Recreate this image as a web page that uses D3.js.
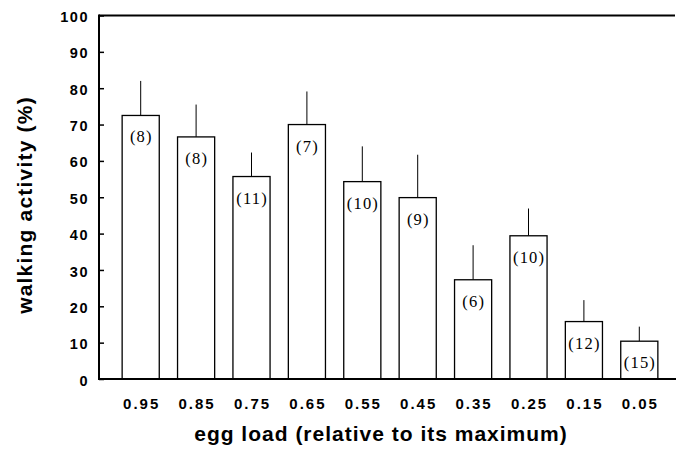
<!DOCTYPE html>
<html>
<head>
<meta charset="utf-8">
<script src="https://cdn.jsdelivr.net/npm/d3@7"></script>
<style>
html, body { margin: 0; padding: 0; background: #fff; }
svg { display: block; }
</style>
</head>
<body>
<svg id="chart" width="676" height="449"></svg>
<script>
const categories = ["0.95", "0.85", "0.75", "0.65", "0.55", "0.45", "0.35", "0.25", "0.15", "0.05"];
const means = [72.5, 66.6, 55.7, 70.0, 54.3, 49.9, 27.3, 39.4, 15.8, 10.4];
const errorTops = [82.0, 75.5, 62.3, 79.1, 64.0, 61.7, 36.8, 46.9, 21.7, 14.4];
const sampleSizes = ["(8)", "(8)", "(11)", "(7)", "(10)", "(9)", "(6)", "(10)", "(12)", "(15)"];
const yTicks = [0, 10, 20, 30, 40, 50, 60, 70, 80, 90, 100];

const svg = d3.select("#chart");
const x = d3.scaleBand().domain(categories).range([113, 667]).paddingInner(0.33).paddingOuter(0.165);
const y = d3.scaleLinear().domain([0, 100]).range([379, 15.5]);
const axisLeft = 99;
const sans = "Liberation Sans, Arial, Helvetica, sans-serif";

const data = categories.map((c, i) => ({ c, m: means[i], e: errorTops[i], n: sampleSizes[i] }));

// error bars (upward only)
svg.append("g").selectAll("line").data(data).join("line")
  .attr("x1", d => x(d.c) + x.bandwidth() / 2)
  .attr("x2", d => x(d.c) + x.bandwidth() / 2)
  .attr("y1", d => y(d.e))
  .attr("y2", d => y(d.m))
  .attr("stroke", "#000").attr("stroke-width", 1);

// bars
svg.append("g").selectAll("rect").data(data).join("rect")
  .attr("x", d => x(d.c))
  .attr("width", x.bandwidth())
  .attr("y", d => y(d.m))
  .attr("height", d => y(0) - y(d.m))
  .attr("fill", "#fff").attr("stroke", "#000").attr("stroke-width", 1.3);

// sample size labels
svg.append("g").selectAll("text").data(data).join("text")
  .attr("x", d => x(d.c) + x.bandwidth() / 2)
  .attr("y", d => y(d.m) + 27)
  .attr("dx", 0.6)
  .attr("text-anchor", "middle")
  .attr("font-family", "Liberation Serif, Times New Roman, serif")
  .attr("font-size", 16.5)
  .attr("letter-spacing", 1.2)
  .attr("fill", "#000")
  .text(d => d.n);

// y axis
const yAxis = d3.axisLeft(y).tickValues(yTicks).tickSize(-5).tickPadding(10).tickFormat(d3.format("d"));
const gy = svg.append("g").attr("transform", `translate(${axisLeft},0)`).call(yAxis);
gy.select(".domain").remove();
gy.selectAll(".tick line").attr("stroke", "#000").attr("stroke-width", 1.5);
gy.selectAll(".tick text")
  .attr("font-family", sans)
  .attr("font-weight", "bold").attr("font-size", 14.5)
  .attr("letter-spacing", 1.5)
  .attr("dy", "0.42em")
  .attr("fill", "#000");

svg.append("line").attr("x1", axisLeft).attr("x2", axisLeft).attr("y1", y(100) - 1).attr("y2", y(0) + 1)
  .attr("stroke", "#000").attr("stroke-width", 2);
// top frame line
svg.append("line").attr("x1", axisLeft).attr("x2", 675).attr("y1", y(100)).attr("y2", y(100))
  .attr("stroke", "#000").attr("stroke-width", 2);

// x axis
const xAxis = d3.axisBottom(x).tickSize(0).tickPadding(19);
const gx = svg.append("g").attr("transform", `translate(0,${y(0)})`).call(xAxis);
gx.select(".domain").remove();
gx.selectAll(".tick text")
  .attr("font-family", sans)
  .attr("font-weight", "bold").attr("font-size", 15)
  .attr("letter-spacing", 2)
  .attr("dx", 1)
  .attr("fill", "#000");
svg.append("line").attr("x1", axisLeft - 1).attr("x2", 676).attr("y1", y(0)).attr("y2", y(0))
  .attr("stroke", "#000").attr("stroke-width", 2);

// axis titles
svg.append("text")
  .attr("x", 381).attr("y", 441)
  .attr("text-anchor", "middle")
  .attr("font-family", sans)
  .attr("font-weight", "bold").attr("font-size", 21).attr("letter-spacing", 1)
  .attr("fill", "#000")
  .text("egg load (relative to its maximum)");

svg.append("text")
  .attr("transform", "translate(32,205) rotate(-90)")
  .attr("text-anchor", "middle")
  .attr("font-family", sans)
  .attr("font-weight", "bold").attr("font-size", 21).attr("letter-spacing", 1.2)
  .attr("fill", "#000")
  .text("walking activity (%)");
</script>
</body>
</html>
